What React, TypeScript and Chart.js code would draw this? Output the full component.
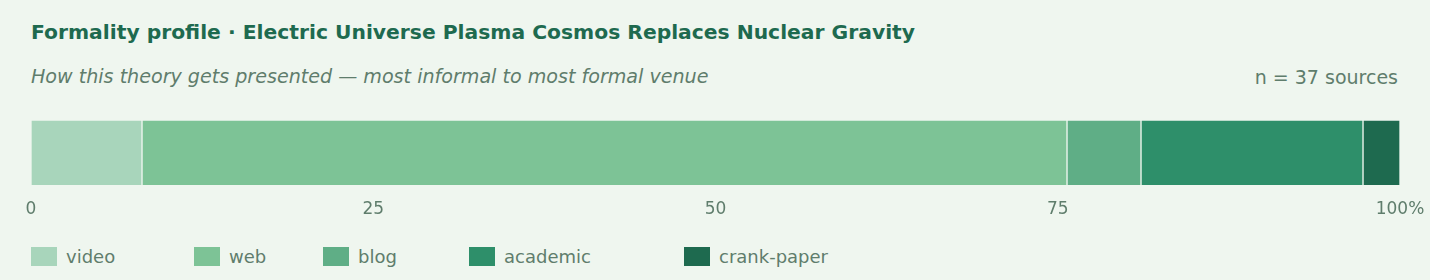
import React, { useEffect, useRef } from "react";
import { Chart, registerables } from "chart.js";

Chart.register(...registerables);

const categories = ["video", "web", "blog", "academic", "crank-paper"];
const counts = [3, 25, 2, 6, 1];
const colors = ["#a8d5bb", "#7dc396", "#5fae86", "#2e8f6a", "#1e6a4f"];
const tickValues = [0, 25, 50, 75, 100];
const legendLeft = [31, 194, 323, 469, 684];

const BG = "#eff6ef";
const TITLE = "Formality profile · Electric Universe Plasma Cosmos Replaces Nuclear Gravity";
const SUBTITLE = "How this theory gets presented — most informal to most formal venue";
const total = counts.reduce((a, b) => a + b, 0);
const NOTE = `n = ${total} sources`;
const FONT = "'DejaVu Sans', sans-serif";

export default function App() {
  const ref = useRef<HTMLCanvasElement | null>(null);

  useEffect(() => {
    document.body.style.margin = "0";
    document.body.style.background = BG;
    const ctx = ref.current!;
    const chart = new Chart(ctx, {
      type: "bar",
      data: {
        labels: ["profile"],
        datasets: categories.map((c, i) => ({
          label: c,
          data: [(counts[i] / total) * 100],
          backgroundColor: colors[i],
          borderColor: BG,
          borderWidth: 1,
          borderSkipped: false,
          barPercentage: 1,
          categoryPercentage: 1,
        })),
      },
      options: {
        indexAxis: "y",
        animation: false,
        responsive: false,
        maintainAspectRatio: false,
        layout: { padding: { top: 10, left: 31, right: 30, bottom: 0 } },
        plugins: { legend: { display: false }, tooltip: { enabled: false }, title: { display: false } },
        scales: {
          x: {
            stacked: true,
            min: 0,
            max: 100,
            afterBuildTicks: (axis: any) => {
              axis.ticks = tickValues.map((v) => ({ value: v }));
            },
            afterFit: (axis: any) => {
              axis.paddingLeft = 0;
              axis.paddingRight = 0;
            },
            ticks: {
              padding: 14,
              color: "#5f7d6c",
              font: { family: FONT, size: 17 },
              callback: (v: any) => (Number(v) === 100 ? "100%" : String(v)),
              maxRotation: 0,
            },
            grid: { display: false, drawTicks: false },
            border: { display: false },
          },
          y: {
            stacked: true,
            display: false,
          },
        },
      },
    });
    return () => chart.destroy();
  }, []);

  return (
    <div style={{ position: "relative", width: 1430, height: 280, background: BG, overflow: "hidden", fontFamily: FONT }}>
      <div style={{ position: "absolute", left: 31, top: 19, fontSize: 20.3, fontWeight: "bold", color: "#1e6a4f", lineHeight: "26px", whiteSpace: "nowrap" }}>
        {TITLE}
      </div>
      <div style={{ position: "absolute", left: 31, top: 64, fontSize: 19.1, fontStyle: "italic", color: "#5f7d6c", lineHeight: "26px", whiteSpace: "nowrap" }}>
        {SUBTITLE}
      </div>
      <div style={{ position: "absolute", right: 32, top: 64, fontSize: 19, color: "#5f7d6c", lineHeight: "26px", whiteSpace: "nowrap" }}>
        {NOTE}
      </div>
      <canvas ref={ref} width={1430} height={124} style={{ position: "absolute", left: 0, top: 110, width: 1430, height: 124 }} />
      {categories.map((c, i) => (
        <div key={c} style={{ position: "absolute", left: legendLeft[i], top: 245, display: "flex", alignItems: "center", height: 22, whiteSpace: "nowrap" }}>
          <span style={{ display: "inline-block", width: 26, height: 19, background: colors[i], marginRight: 9 }} />
          <span style={{ fontSize: 18, color: "#5f7d6c" }}>{c}</span>
        </div>
      ))}
    </div>
  );
}
